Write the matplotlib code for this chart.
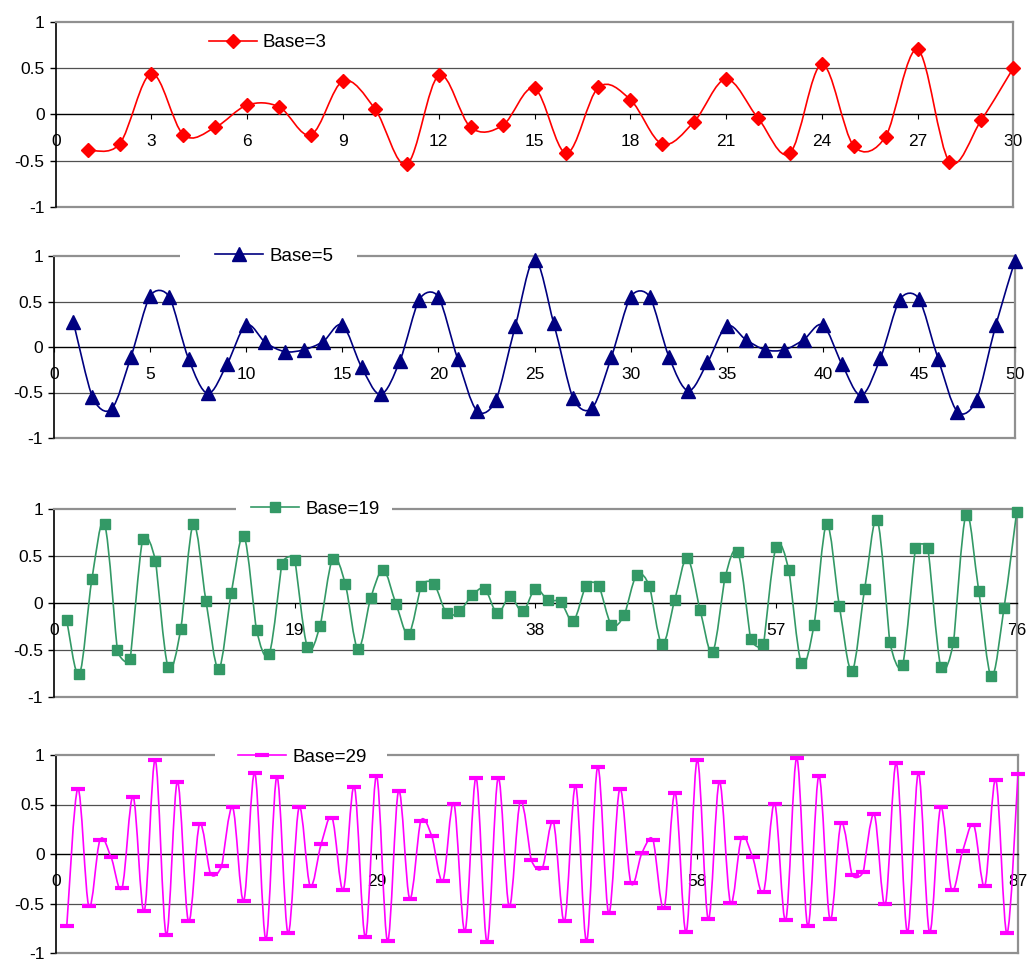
import numpy as np
import matplotlib
matplotlib.use('Agg')
import matplotlib.pyplot as plt
from matplotlib.path import Path
from matplotlib.patches import PathPatch, Rectangle
from matplotlib.lines import Line2D

plt.rcParams['font.family'] = ['Liberation Sans', 'DejaVu Sans']
plt.rcParams['axes.unicode_minus'] = False

# ---------------- data ----------------
base3_vals = [-0.385, -0.32, 0.44, -0.22, -0.14, 0.10, 0.08, -0.22, 0.36, 0.06,
              -0.54, 0.42, -0.14, -0.12, 0.28, -0.42, 0.29, 0.16, -0.32, -0.08,
              0.38, -0.04, -0.42, 0.54, -0.34, -0.24, 0.70, -0.51, -0.06, 0.50]

base5_vals = [0.28, -0.55, -0.68, -0.11, 0.56, 0.55, -0.13, -0.51, -0.19, 0.24,
              0.05, -0.05, -0.03, 0.06, 0.24, -0.22, -0.52, -0.15, 0.52, 0.55,
              -0.13, -0.70, -0.58, 0.23, 0.96, 0.26, -0.56, -0.67, -0.11, 0.55,
              0.55, -0.11, -0.48, -0.17, 0.23, 0.08, -0.03, -0.03, 0.08, 0.24,
              -0.19, -0.53, -0.12, 0.52, 0.53, -0.13, -0.71, -0.58, 0.24, 0.95]

base19_vals = [-0.18, -0.76, 0.26, 0.84, -0.50, -0.60, 0.68, 0.45, -0.68, -0.28,
               0.84, 0.02, -0.70, 0.11, 0.71, -0.29, -0.54, 0.42, 0.46, -0.47,
               -0.24, 0.47, 0.20, -0.49, 0.05, 0.35, -0.01, -0.33, 0.18, 0.20,
               -0.11, -0.09, 0.08, 0.15, -0.11, 0.07, -0.09, 0.15, 0.03, 0.01,
               -0.19, 0.18, 0.18, -0.23, -0.13, 0.30, 0.18, -0.44, 0.03, 0.48,
               -0.07, -0.52, 0.28, 0.54, -0.38, -0.44, 0.60, 0.35, -0.64, -0.23,
               0.84, -0.03, -0.72, 0.15, 0.88, -0.42, -0.66, 0.58, 0.58, -0.68,
               -0.42, 0.94, 0.13, -0.78, -0.05, 0.97]

base29_vals = [-0.73, 0.66, -0.53, 0.14, -0.03, -0.34, 0.58, -0.58, 0.95, -0.82,
               0.73, -0.68, 0.30, -0.20, -0.12, 0.47, -0.47, 0.82, -0.86, 0.78,
               -0.80, 0.47, -0.32, 0.10, 0.36, -0.36, 0.68, -0.84, 0.79, -0.88,
               0.64, -0.45, 0.33, 0.18, -0.27, 0.51, -0.78, 0.77, -0.89, 0.77,
               -0.53, 0.53, -0.06, -0.14, 0.32, -0.68, 0.69, -0.88, 0.88, -0.60,
               0.66, -0.29, 0.01, 0.14, -0.55, 0.62, -0.79, 0.95, -0.66, 0.73,
               -0.49, 0.16, -0.03, -0.38, 0.51, -0.67, 0.97, -0.73, 0.79, -0.66,
               0.31, -0.21, -0.18, 0.40, -0.51, 0.92, -0.79, 0.82, -0.79, 0.47,
               -0.36, 0.03, 0.29, -0.32, 0.75, -0.80, 0.81]

series_labels = ['Base=3', 'Base=5', 'Base=19', 'Base=29']
x_tick_steps = [3, 5, 19, 29]
y_ticks = [-1, -0.5, 0, 0.5, 1]
y_tick_labels = ['-1', '-0.5', '0', '0.5', '1']

# ---------------- styles / layout ----------------
W, H = 1029, 960
panel_px = [  # left, right, top, bottom in pixels
    (55.7, 1013.3, 21.7, 207.0),
    (54.0, 1015.0, 256.0, 438.0),
    (54.0, 1016.7, 509.0, 697.0),
    (55.7, 1018.0, 755.0, 953.0),
]
styles = [
    dict(color='#FF0000', marker='D', ms=7, mew=1),
    dict(color='#000080', marker='^', ms=9.5, mew=1),
    dict(color='#339966', marker='s', ms=7.5, mew=1),
    dict(color='#FF00FF', marker='_', ms=10, mew=3),
]
legend_anchor = [(0.144, 0.887), (0.1516, 1.0), (0.1887, 1.0), (0.1735, 0.99)]
# gaps cut into the top border behind the legend (axes fraction)
legend_gap = [None, (0.131, 0.315), (0.189, 0.351), (0.1655, 0.344)]


def smooth_path(x, y, sx, sy):
    """Excel-like smoothed curve: Catmull-Rom tangents (1/6) computed in
    pixel space, arm capped at half the shorter adjacent segment."""
    P = np.column_stack([np.asarray(x, float) * sx, np.asarray(y, float) * sy])
    n = len(P)
    T = np.zeros_like(P)
    for i in range(n):
        a = P[max(i - 1, 0)]
        b = P[min(i + 1, n - 1)]
        t = (b - a) / 6.0
        L = np.hypot(*t)
        segs = []
        if i > 0:
            segs.append(np.hypot(*(P[i] - P[i - 1])))
        if i < n - 1:
            segs.append(np.hypot(*(P[i + 1] - P[i])))
        cap = 0.5 * min(segs)
        if L > cap and L > 0:
            t = t * cap / L
        T[i] = t
    verts = [P[0]]
    codes = [Path.MOVETO]
    for i in range(n - 1):
        verts += [P[i] + T[i], P[i + 1] - T[i + 1], P[i + 1]]
        codes += [Path.CURVE4] * 3
    V = np.array(verts)
    V[:, 0] /= sx
    V[:, 1] /= sy
    return Path(V, codes)


fig = plt.figure(figsize=(W / 100, H / 100), dpi=100)

all_vals = [base3_vals, base5_vals, base19_vals, base29_vals]
for k, vals in enumerate(all_vals):
    l, r, t, b = panel_px[k]
    ax = fig.add_axes([l / W, 1 - b / H, (r - l) / W, (b - t) / H])
    n = len(vals)
    x = np.arange(1, n + 1)
    st = styles[k]

    ax.set_xlim(0, n)
    ax.set_ylim(-1, 1)

    # gridlines / borders
    for yv in (0.5, -0.5):
        ax.axhline(yv, color='#505050', lw=0.9, zorder=1)
    ax.axhline(-1, color='#909090', lw=1.6, zorder=2, clip_on=False)

    # smooth line (pixel scale factors for the smoothing)
    sx = (r - l) / n
    sy = (b - t) / 2.0
    patch = PathPatch(smooth_path(x, vals, sx, sy), facecolor='none',
                      edgecolor=st['color'], lw=1.2, zorder=3)
    ax.add_patch(patch)
    ax.plot(x, vals, linestyle='none', marker=st['marker'], ms=st['ms'],
            color=st['color'], mec=st['color'], mew=st['mew'], zorder=4,
            clip_on=False)

    # spines
    ax.spines['bottom'].set_position(('data', 0))
    ax.spines['bottom'].set_color('black')
    ax.spines['bottom'].set_linewidth(1.0)
    ax.spines['left'].set_color('black')
    ax.spines['left'].set_linewidth(1.2)
    for s in ('top', 'right'):
        ax.spines[s].set_color('#909090')
        ax.spines[s].set_linewidth(1.6)

    step = x_tick_steps[k]
    xt = np.arange(0, n + 1, step)
    ax.set_xticks(xt)
    ax.set_xticklabels([str(v) for v in xt])
    ax.tick_params(axis='x', direction='out', length=3.5, width=0.8,
                   pad=11, labelsize=12.5, colors='black')
    ax.set_yticks(y_ticks)
    ax.set_yticklabels(y_tick_labels)
    ax.tick_params(axis='y', direction='out', length=4, width=1.0,
                   pad=4, labelsize=12.5, colors='black')

    if legend_gap[k] is not None:
        g0, g1 = legend_gap[k]
        ax.add_patch(Rectangle((g0, 0.985), g1 - g0, 0.03,
                               transform=ax.transAxes, facecolor='white',
                               edgecolor='none', zorder=2.6, clip_on=False))

    handle = Line2D([0], [0], color=st['color'], lw=1.2, marker=st['marker'],
                    ms=st['ms'], mew=st['mew'], mec=st['color'])
    leg = ax.legend([handle], [series_labels[k]], loc='center left',
                    bbox_to_anchor=legend_anchor[k], borderaxespad=0,
                    borderpad=0.8, handlelength=2.6, handletextpad=0.3,
                    fontsize=13.5, frameon=False, numpoints=1)
    leg.set_zorder(10)

fig.savefig('out.png', dpi=100)
